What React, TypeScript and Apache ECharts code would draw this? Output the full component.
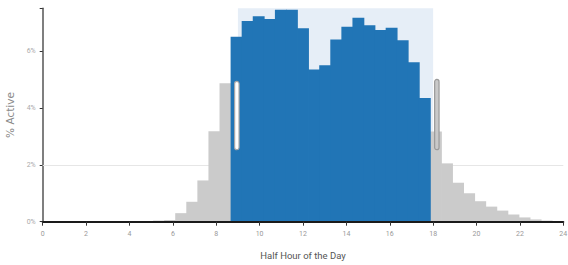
import React, { useEffect, useRef } from "react";
import * as echarts from "echarts";

// 47 equal bins across the 24-hour day; value = % of members active
const BIN_LABELS: string[] = Array.from({ length: 47 }, (_, i) => `bin${i}`);
const ACTIVE_PCT: number[] = [
  0, 0, 0, 0, 0, 0, 0, 0, 0, 0.01,
  0.04, 0.06, 0.3, 0.7, 1.45, 3.18, 4.87,
  6.5, 7.05, 7.22, 7.12, 7.45, 7.45, 6.8, 5.35, 5.5, 6.4, 6.85, 7.17, 6.9, 6.74, 6.82, 6.38, 5.6, 4.35,
  3.17, 2.05, 1.37, 1.0, 0.72, 0.53, 0.39, 0.25, 0.15, 0.08, 0.04, 0.02,
];
const SELECTED_FIRST = 17;
const SELECTED_LAST = 34;

const BRUSH_RANGE: number[] = [9, 18];
const HANDLE_X: number[] = [8.95, 18.17];
const HANDLE_TOP: number[] = [4.93, 5.0];
const HANDLE_BOTTOM: number[] = [2.53, 2.53];

const X_TICKS_INTERVAL = 2;
const Y_MAX = 7.5;
const REF_LINE = 2;

const BLUE = "#2175b6";
const GRAY = "#cbcbcb";

export default function App() {
  const ref = useRef<HTMLDivElement>(null);
  useEffect(() => {
    if (!ref.current) return;
    const chart = echarts.init(ref.current, undefined, { renderer: "svg" });
    const barData = ACTIVE_PCT.map((v, i) => [i, v]);
    const handleData = HANDLE_X.map((x, i) => [x, HANDLE_TOP[i], HANDLE_BOTTOM[i]]);
    chart.setOption({
      animation: false,
      grid: { left: 42.7, right: 4.7, top: 8.3, bottom: 43.3, outerBoundsMode: "none" },
      xAxis: [
        {
          type: "value",
          min: 0,
          max: 24,
          interval: X_TICKS_INTERVAL,
          position: "bottom",
          name: "Half Hour of the Day",
          nameLocation: "middle",
          nameGap: 29,
          nameTextStyle: { fontSize: 9.5, color: "#555", fontFamily: "Roboto" },
          axisLine: { show: true, lineStyle: { color: "#1a1a1a", width: 2 } },
          axisTick: { show: true, length: 4, lineStyle: { color: "#333", width: 1 } },
          axisLabel: { fontSize: 7, color: "#999", margin: 9, fontFamily: "Roboto" },
          splitLine: { show: false },
          z: 10,
        },
        {
          type: "category",
          data: BIN_LABELS,
          show: false,
          boundaryGap: true,
        },
      ],
      yAxis: {
        type: "value",
        min: 0,
        max: Y_MAX,
        interval: 2,
        name: "% Active",
        nameLocation: "middle",
        nameGap: 25,
        nameRotate: 90,
        nameTextStyle: { fontSize: 10.5, color: "#8a8a8a", fontFamily: "DejaVu Sans" },
        axisLine: { show: true, lineStyle: { color: "#555", width: 1.5 } },
        axisTick: { show: true, length: 3, lineStyle: { color: "#333" } },
        axisLabel: {
          fontSize: 7,
          color: "#aaa",
          margin: 7,
          fontFamily: "Roboto",
          formatter: (v: number) => (v % 2 === 0 ? `${v}%` : ""),
        },
        splitLine: { show: false },
      },
      series: [
        {
          type: "line",
          xAxisIndex: 0,
          data: [],
          symbol: "none",
          silent: true,
          z: 1,
          markArea: {
            silent: true,
            z: 1,
            itemStyle: { color: "#e6eef7" },
            data: [[{ xAxis: BRUSH_RANGE[0] }, { xAxis: BRUSH_RANGE[1] }]],
          },
          markLine: {
            silent: true,
            z: 0.5,
            symbol: "none",
            label: { show: false },
            lineStyle: { color: "#e6e6e6", width: 1, type: "solid" },
            data: [{ yAxis: REF_LINE }],
          },
        },
        {
          type: "custom",
          xAxisIndex: 1,
          data: barData,
          z: 2,
          silent: true,
          encode: { x: 0, y: 1 },
          renderItem: (params: any, api: any) => {
            const idx = api.value(0);
            const v = api.value(1);
            if (!(v > 0)) return null;
            const top = api.coord([idx, v]);
            const base = api.coord([idx, 0]);
            const w = api.size([1, 0])[0];
            const selected = idx >= SELECTED_FIRST && idx <= SELECTED_LAST;
            return {
              type: "rect",
              shape: { x: top[0] - w / 2 - 0.4, y: top[1], width: w + 0.8, height: base[1] - top[1] },
              style: { fill: selected ? BLUE : GRAY },
              z2: selected ? 2 : 1,
            };
          },
        },
        {
          type: "custom",
          xAxisIndex: 0,
          data: handleData,
          z: 4,
          silent: true,
          renderItem: (params: any, api: any) => {
            const top = api.coord([api.value(0), api.value(1)]);
            const bot = api.coord([api.value(0), api.value(2)]);
            const isRight = params.dataIndex === 1;
            return {
              type: "rect",
              shape: { x: top[0] - 2.2, y: top[1], width: 4.4, height: bot[1] - top[1], r: 2.2 },
              style: {
                fill: isRight ? "#c9c9c9" : "#ffffff",
                stroke: isRight ? "#9a9a9a" : "#a8a8a8",
                lineWidth: 1.2,
              },
            };
          },
        },
      ],
    });
    return () => chart.dispose();
  }, []);
  return (
    <div
      ref={ref}
      style={{ position: "fixed", left: 0, top: 0, width: 568, height: 265, background: "#fff" }}
    />
  );
}
